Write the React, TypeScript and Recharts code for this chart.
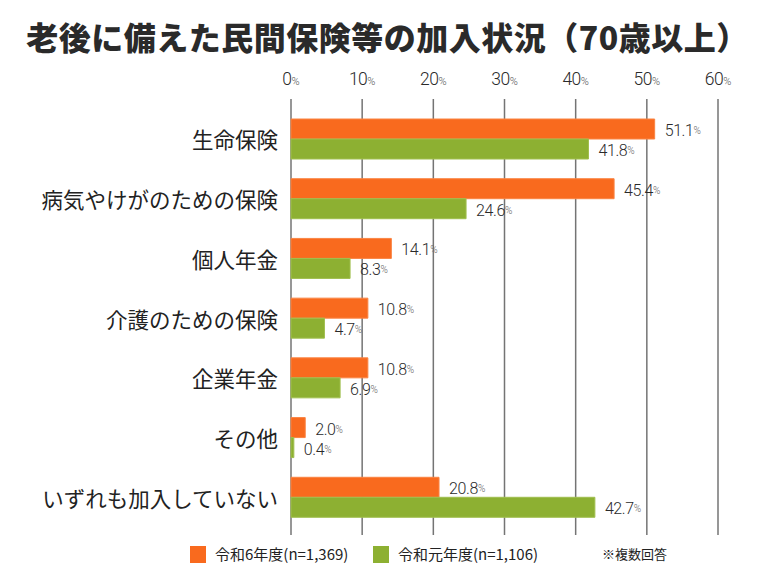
import { BarChart, Bar, XAxis, YAxis, CartesianGrid, LabelList } from "recharts";

const categories = [
  "生命保険",
  "病気やけがのための保険",
  "個人年金",
  "介護のための保険",
  "企業年金",
  "その他",
  "いずれも加入していない",
];
const reiwa6 = [51.1, 45.4, 14.1, 10.8, 10.8, 2.0, 20.8];
const reiwa1 = [41.8, 24.6, 8.3, 4.7, 6.9, 0.4, 42.7];
const seriesNames = ["令和6年度(n=1,369)", "令和元年度(n=1,106)"];
const xTicks = [0, 10, 20, 30, 40, 50, 60];

const title = "老後に備えた民間保険等の加入状況（70歳以上）";
const note = "※複数回答";

const ORANGE = "#F96A1E";
const ORANGE_EDGE = "#FA8443";
const GREEN = "#8DB032";
const GREEN_EDGE = "#A0BF4E";
const GRID = "#747474";
const NUM_FONT = "Roboto, 'Liberation Sans', Arial, sans-serif";
const JP_FONT = "'Noto Sans CJK JP', 'Noto Sans', sans-serif";

const rows = categories.map((name, i) => ({ name, r6: reiwa6[i], r1: reiwa1[i] }));

// top axis: big number, small percent sign
function PercentTick(props: any) {
  const { x, y, payload } = props;
  return (
    <text x={x} y={y - 6} textAnchor="middle" fill="#2a2a2a" fontFamily={NUM_FONT} fontWeight={300}>
      <tspan fontSize={17.5} letterSpacing={-0.5}>{payload.value}</tspan>
      <tspan fontSize={11} fill="#555">%</tspan>
    </text>
  );
}

function CategoryTick(props: any) {
  const { x, y, payload } = props;
  return (
    <text x={x} y={y} textAnchor="end" dominantBaseline="central" fill="#222" fontSize={21.5} fontFamily={JP_FONT}>
      {payload.value}
    </text>
  );
}

function ValueLabel(props: any) {
  const { x, y, width, height, value } = props;
  return (
    <text
      x={x + width + 10}
      y={y + height / 2 + 1}
      dominantBaseline="central"
      fill="#2a2a2a"
      fontFamily={NUM_FONT}
      fontWeight={300}
    >
      <tspan fontSize={16} letterSpacing={-0.4}>{Number(value).toFixed(1)}</tspan>
      <tspan fontSize={10} fill="#666">%</tspan>
    </text>
  );
}

function LegendRow() {
  const colors = [ORANGE, GREEN];
  const lefts = [190, 373];
  return (
    <>
      {seriesNames.map((n, i) => (
        <div
          key={n}
          style={{ position: "absolute", left: lefts[i], top: 545, display: "flex", alignItems: "center", height: 18 }}
        >
          <span style={{ width: 16, height: 17, background: colors[i], display: "inline-block", marginRight: 9 }} />
          <span style={{ fontFamily: JP_FONT, fontSize: 15, color: "#222", lineHeight: "18px" }}>{n}</span>
        </div>
      ))}
      <div
        style={{ position: "absolute", left: 602, top: 545, fontFamily: JP_FONT, fontSize: 13, color: "#222", lineHeight: "18px" }}
      >
        {note}
      </div>
    </>
  );
}

export default function App() {
  return (
    <div style={{ position: "absolute", left: 0, top: 0, width: 775, height: 584, background: "#fff" }}>
      <div
        style={{
          position: "absolute",
          left: 0,
          top: 14,
          width: 775,
          textAlign: "center",
          fontFamily: JP_FONT,
          fontWeight: 900,
          fontSize: 32,
          color: "#2a2a2a",
          lineHeight: "44px",
          letterSpacing: 0.5,
          whiteSpace: "nowrap",
        }}
      >
        {title}
      </div>
      <div style={{ position: "absolute", left: 0, top: 0 }}>
        <BarChart
          width={775}
          height={584}
          data={rows}
          layout="vertical"
          margin={{ top: 69, right: 57, bottom: 49, left: 11 }}
          barGap={0}
          barSize={20}
        >
          <CartesianGrid horizontal={false} stroke={GRID} strokeWidth={1.5} />
          <XAxis
            type="number"
            orientation="top"
            domain={[0, 60]}
            ticks={xTicks}
            height={30}
            axisLine={false}
            tickLine={false}
            tick={<PercentTick />}
            interval={0}
          />
          <YAxis
            type="category"
            dataKey="name"
            width={280}
            axisLine={false}
            tickLine={false}
            tickMargin={7}
            padding={{ top: 10, bottom: 8 }}
            tick={<CategoryTick />}
            interval={0}
          />
          <Bar dataKey="r6" name={seriesNames[0]} fill={ORANGE} stroke={ORANGE_EDGE} strokeWidth={1} isAnimationActive={false}>
            <LabelList dataKey="r6" content={<ValueLabel />} />
          </Bar>
          <Bar dataKey="r1" name={seriesNames[1]} fill={GREEN} stroke={GREEN_EDGE} strokeWidth={1} isAnimationActive={false}>
            <LabelList dataKey="r1" content={<ValueLabel />} />
          </Bar>
        </BarChart>
      </div>
      <LegendRow />
    </div>
  );
}
